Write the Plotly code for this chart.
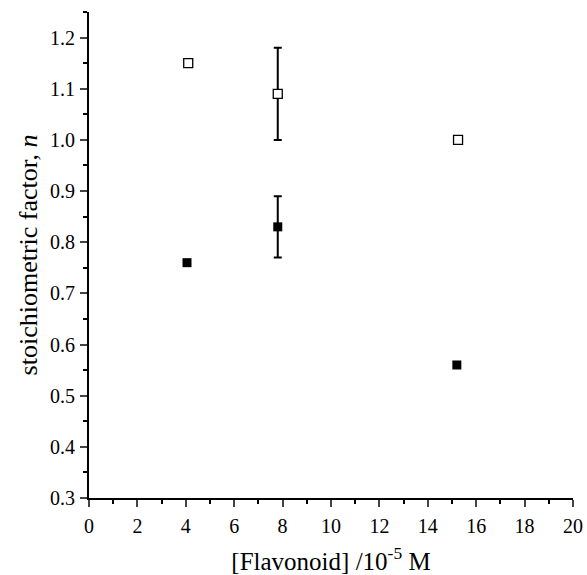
import plotly.graph_objects as go

x_open = [4.1, 7.8, 15.25]
y_open = [1.15, 1.09, 1.00]
err_open = [None, 0.09, None]

x_filled = [4.05, 7.8, 15.2]
y_filled = [0.76, 0.83, 0.56]
err_filled = [None, 0.06, None]

x_ticks = [0, 2, 4, 6, 8, 10, 12, 14, 16, 18, 20]
y_ticks = [0.3, 0.4, 0.5, 0.6, 0.7, 0.8, 0.9, 1.0, 1.1, 1.2]


def with_err(xs, ys, es):
    idx = [i for i, e in enumerate(es) if e is not None]
    return [xs[i] for i in idx], [ys[i] for i in idx], [es[i] for i in idx]


fig = go.Figure()
for xs, ys, es in [(x_open, y_open, err_open), (x_filled, y_filled, err_filled)]:
    ex, ey, ee = with_err(xs, ys, es)
    fig.add_trace(go.Scatter(
        x=ex, y=ey, mode="markers", marker=dict(size=1, opacity=0),
        error_y=dict(type="data", array=ee, visible=True, color="black", thickness=2, width=4),
        showlegend=False, hoverinfo="skip"))

fig.add_trace(go.Scatter(
    x=x_open, y=y_open, mode="markers",
    marker=dict(symbol="square", size=9, color="white", line=dict(width=1.3, color="black")),
    showlegend=False))
fig.add_trace(go.Scatter(
    x=x_filled, y=y_filled, mode="markers",
    marker=dict(symbol="square", size=9, color="black"),
    showlegend=False))

FAM = "Liberation Serif, Times New Roman, serif"
fig.update_layout(
    width=587, height=575,
    margin=dict(l=89, r=14, t=12, b=77),
    paper_bgcolor="white", plot_bgcolor="white",
    font=dict(family=FAM, color="black", size=19),
    xaxis=dict(range=[0, 20], tickvals=x_ticks, ticks="outside", ticklen=7, tickwidth=2,
               showline=True, linewidth=2, linecolor="black", showgrid=False, zeroline=False,
               minor=dict(dtick=1, ticks="outside", ticklen=4, tickwidth=1.5, tickcolor="black"),
               title=dict(text="[Flavonoid] /10<sup>-5</sup> M", font=dict(family=FAM, size=25, color="black"), standoff=16),
               tickfont=dict(family=FAM, size=20, color="black"), ticklabelstandoff=2, automargin=False),
    yaxis=dict(range=[0.3, 1.25], tickvals=y_ticks, tickformat=".1f", ticks="outside", ticklen=7, tickwidth=2,
               showline=True, linewidth=2, linecolor="black", showgrid=False, zeroline=False,
               minor=dict(dtick=0.05, tick0=0.3, ticks="outside", ticklen=4, tickwidth=1.5, tickcolor="black"),
               title=dict(text="stoichiometric factor, <i>n</i>", font=dict(family=FAM, size=26, color="black"), standoff=5),
               tickfont=dict(family=FAM, size=20, color="black"), ticklabelstandoff=1, automargin=False),
)
fig.write_html("out.html", config={"displayModeBar": False},
               post_script="document.body.style.margin='0';")
